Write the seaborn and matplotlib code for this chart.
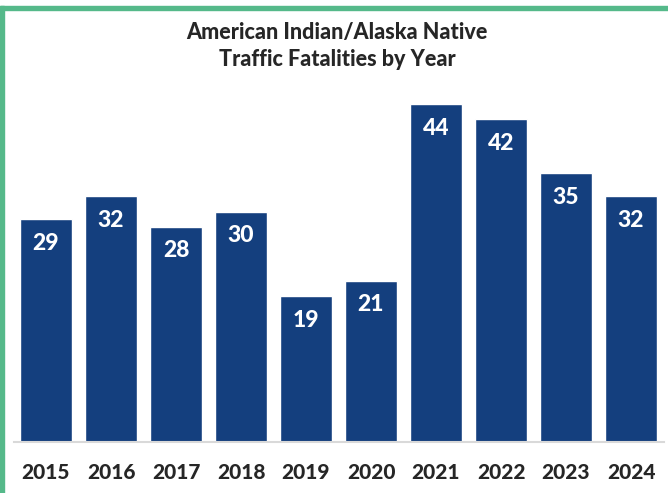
import matplotlib
matplotlib.use("Agg")
import matplotlib.pyplot as plt
import seaborn as sns
import pandas as pd
from matplotlib.patches import Rectangle

years = ["2015", "2016", "2017", "2018", "2019", "2020", "2021", "2022", "2023", "2024"]
fatalities = [29, 32, 28, 30, 19, 21, 44, 42, 35, 32]
title_text = "American Indian/Alaska Native\nTraffic Fatalities by Year"

df = pd.DataFrame({"Year": years, "Fatalities": fatalities})

sns.set_style("white")
plt.rcParams["font.family"] = ["Lato", "DejaVu Sans"]

W, H = 668, 493
fig = plt.figure(figsize=(W / 100, H / 100), dpi=100)
ax = fig.add_axes([13.5 / W, (H - 442) / H, 650 / W, (442 - 60) / H])

bar_color = "#143F7E"
sns.barplot(data=df, x="Year", y="Fatalities", color=bar_color, width=0.8,
            saturation=1, ax=ax)

px_per_unit = 338 / 44
ax.set_ylim(0, (442 - 60) / px_per_unit)
ax.set_xlim(-0.5, len(years) - 0.5)

for i, v in enumerate(fatalities):
    ax.text(i, v - 24 / px_per_unit, str(v), ha="center", va="center",
            color="white", fontsize=16.5, fontweight="black")

ax.set_xlabel("")
ax.set_ylabel("")
ax.set_yticks([])
ax.tick_params(axis="x", length=0, pad=15, labelsize=15)
for lbl in ax.get_xticklabels():
    lbl.set_fontweight("black")
for s in ["top", "right", "left"]:
    ax.spines[s].set_visible(False)
ax.spines["bottom"].set_color("#D9D9D9")
ax.spines["bottom"].set_linewidth(1.5)

fig.text(337 / W, 1 - 46 / H, title_text, ha="center", va="center",
         fontsize=15.5, fontweight="black", linespacing=1.4)

green = "#55B98A"
fig.patches.append(Rectangle((0, 0), 4 / W, 1 - 6 / H, transform=fig.transFigure,
                             color=green, zorder=10))
fig.patches.append(Rectangle((0, 1 - 10 / H), 1, 4 / H, transform=fig.transFigure,
                             color=green, zorder=10))

fig.savefig("out.png", dpi=100)
